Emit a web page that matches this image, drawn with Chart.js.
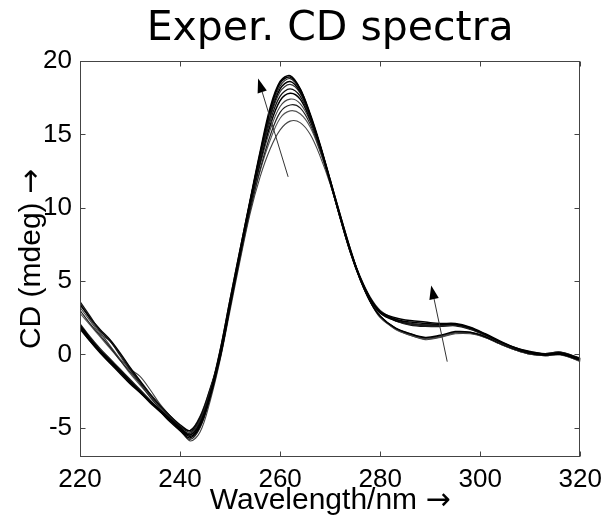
<!DOCTYPE html>
<html>
<head>
<meta charset="utf-8">
<script src="https://cdn.jsdelivr.net/npm/chart.js@4"></script>
<style>
  html, body { margin: 0; padding: 0; background: #fff; }
  #wrap { width: 609px; height: 520px; }
</style>
</head>
<body>
<div id="wrap"><canvas id="cdChart" width="609" height="520"></canvas></div>
<script>
// wavelengths (nm) shared by every spectrum
var wavelengths = [220,222,224,226,228,230,232,234,236,238,240,242,244,246,248,250,252,254,256,258,260,262,264,266,268,270,272,274,276,278,280,283,286,289,292,295,298,301,304,307,310,313,316,320];

// CD (mdeg) for each measured spectrum
var specA = [2.0,1.1,0.3,-0.4,-1.1,-1.8,-2.5,-3.2,-3.8,-4.4,-5.0,-5.5,-4.7,-2.7,0.2,3.7,7.1,10.5,13.8,16.8,18.6,19.0,18.1,16.3,14.2,11.8,9.4,7.1,5.2,3.8,2.9,2.4,2.2,2.1,2.05,2.05,1.8,1.35,0.85,0.45,0.15,0.0,0.1,-0.3];
var specB = [1.9,1.0,0.2,-0.5,-1.2,-1.9,-2.6,-3.2,-3.9,-4.5,-5.1,-5.6,-4.8,-2.8,0.0,3.5,7.0,10.4,13.7,16.6,18.5,18.9,18.1,16.4,14.3,11.9,9.5,7.2,5.2,3.8,2.9,2.5,2.3,2.2,2.1,2.1,1.85,1.4,0.9,0.45,0.2,0.0,0.05,-0.35];
var specC = [2.1,1.2,0.4,-0.3,-1.0,-1.7,-2.4,-3.1,-3.8,-4.4,-5.0,-5.4,-4.5,-2.5,0.3,3.8,7.2,10.5,13.6,16.4,18.3,18.8,18.0,16.3,14.2,11.8,9.4,7.1,5.3,3.9,3.0,2.4,2.1,2.0,2.0,2.0,1.75,1.3,0.8,0.4,0.15,0.05,0.15,-0.25];
var specD = [1.8,0.9,0.1,-0.6,-1.3,-2.0,-2.6,-3.3,-3.9,-4.6,-5.2,-5.7,-4.9,-2.9,-0.1,3.4,6.9,10.3,13.5,16.3,18.1,18.6,17.9,16.3,14.2,11.9,9.5,7.2,5.2,3.8,2.8,2.3,2.1,2.0,2.0,2.05,1.8,1.35,0.85,0.4,0.1,-0.05,0.05,-0.35];
var specE = [1.7,0.9,0.2,-0.5,-1.2,-1.9,-2.5,-3.2,-3.9,-4.5,-5.1,-5.5,-4.6,-2.6,0.1,3.6,7.0,10.3,13.4,16.1,17.9,18.4,17.8,16.2,14.2,11.8,9.4,7.1,5.2,3.8,2.9,2.3,2.05,1.95,1.95,2.0,1.75,1.3,0.8,0.4,0.1,0.0,0.1,-0.3];
var specF = [3.6,2.6,1.6,0.9,0.0,-1.0,-1.9,-2.7,-3.5,-4.2,-4.9,-5.3,-4.4,-2.5,0.0,3.5,6.9,10.2,13.3,15.9,17.6,18.1,17.6,16.1,14.1,11.8,9.4,7.1,5.2,3.8,2.9,2.3,2.0,1.9,1.9,1.95,1.7,1.3,0.8,0.4,0.1,0.05,0.15,-0.3];
var specG = [3.4,2.5,1.7,1.0,0.1,-0.9,-1.8,-2.7,-3.5,-4.2,-4.8,-5.2,-4.3,-2.4,-0.2,3.3,6.8,10.1,13.1,15.6,17.3,17.8,17.4,16.0,14.1,11.8,9.3,7.0,5.1,3.6,2.6,1.8,1.4,1.15,1.3,1.55,1.5,1.2,0.75,0.35,0.05,-0.05,0.0,-0.4];
var specH = [3.2,2.3,1.4,0.9,-0.1,-1.1,-1.9,-2.8,-3.6,-4.3,-5.0,-5.5,-4.6,-2.6,0.2,3.6,6.9,10.1,12.9,15.3,16.9,17.4,17.1,15.9,14.0,11.7,9.3,7.0,5.1,3.6,2.6,1.7,1.3,1.05,1.2,1.5,1.45,1.15,0.7,0.3,0.0,-0.1,0.0,-0.45];
var specI = [3.0,2.1,1.3,0.5,-0.4,-1.2,-2.0,-2.9,-3.7,-4.4,-5.2,-5.8,-5.0,-3.0,-0.3,3.2,6.6,9.8,12.6,14.9,16.5,17.0,16.8,15.7,13.9,11.7,9.3,7.0,5.1,3.6,2.6,1.8,1.4,1.1,1.25,1.5,1.5,1.2,0.75,0.35,0.05,-0.05,0.05,-0.4];
var specJ = [2.8,2.0,1.2,0.4,-0.4,-1.3,-2.1,-2.9,-3.7,-4.3,-4.9,-5.2,-4.2,-2.3,0.0,3.4,6.7,9.8,12.5,14.6,16.1,16.6,16.4,15.5,13.8,11.7,9.3,7.0,5.1,3.6,2.6,1.8,1.35,1.1,1.2,1.45,1.45,1.15,0.7,0.3,0.0,-0.1,-0.05,-0.45];
var specK = [3.5,2.4,1.5,0.6,-0.3,-1.0,-1.5,-2.4,-3.4,-4.2,-5.0,-5.9,-5.3,-3.2,-0.4,3.0,6.4,9.6,12.1,14.0,15.3,15.9,15.8,15.0,13.5,11.6,9.3,7.0,5.1,3.6,2.5,1.75,1.3,1.0,1.15,1.4,1.4,1.15,0.7,0.3,0.0,-0.1,0.0,-0.5];

var spectra = [specA, specB, specC, specD, specE, specF, specG, specH, specI, specJ, specK];
var lineColors = ['#000','#000','#222','#000','#333','#111','#000','#444','#222','#555','#444'];
var lineWidths = [1.6, 1.5, 1.2, 1.5, 1.2, 1.3, 1.5, 1.1, 1.2, 1.1, 1.1];

// tick values
var xTicks = [220, 240, 260, 280, 300, 320];
var yTicks = [-5, 0, 5, 10, 15, 20];

// trend arrows: [wavelength, CD] tail -> head
var arrowTails = [[261.6, 12.1], [293.4, -0.5]];
var arrowHeads = [[255.6, 18.8], [290.2, 4.7]];

var labelFamily = 'Liberation Sans, Arial, sans-serif';
var tickFont = { family: labelFamily, size: 26 };

// inward ticks on all four sides plus the box
var frameTicks = {
    id: 'frameTicks',
    afterDraw: function(chart) {
        var ctx = chart.ctx, a = chart.chartArea;
        var sx = chart.scales.x, sy = chart.scales.y;
        var L = Math.round(a.left) + 0.5, R = Math.round(a.right) - 0.5;
        var T = Math.round(a.top) + 0.5, B = Math.round(a.bottom) - 0.5;
        ctx.save();
        ctx.strokeStyle = '#444';
        ctx.lineWidth = 1;
        ctx.strokeRect(L, T, R - L, B - T);
        ctx.beginPath();
        xTicks.forEach(function(v) {
            var px = Math.round(sx.getPixelForValue(v)) + 0.5;
            ctx.moveTo(px, B); ctx.lineTo(px, B - 5);
            ctx.moveTo(px, T); ctx.lineTo(px, T + 5);
        });
        yTicks.forEach(function(v) {
            var py = Math.round(sy.getPixelForValue(v)) + 0.5;
            ctx.moveTo(L, py); ctx.lineTo(L + 5, py);
            ctx.moveTo(R, py); ctx.lineTo(R - 5, py);
        });
        ctx.stroke();
        ctx.restore();
    }
};

// axis titles: text in Helvetica-like face, arrow glyph from DejaVu
function drawLabel(ctx, text, cx, baseY) {
    ctx.font = '30px ' + labelFamily;
    var w1 = ctx.measureText(text + ' ').width;
    ctx.font = '30px DejaVu Sans';
    var w2 = ctx.measureText('\u2192').width;
    var x = cx - (w1 + w2) / 2;
    ctx.textAlign = 'left';
    ctx.textBaseline = 'alphabetic';
    ctx.font = '30px ' + labelFamily;
    ctx.fillText(text, x, baseY);
    ctx.font = '30px DejaVu Sans';
    ctx.fillText('\u2192', x + w1, baseY);
}

var axisTitles = {
    id: 'axisTitles',
    afterDraw: function(chart) {
        var ctx = chart.ctx, a = chart.chartArea;
        ctx.save();
        ctx.fillStyle = '#000';
        drawLabel(ctx, 'Wavelength/nm', (a.left + a.right) / 2, 509);
        ctx.translate(40, (a.top + a.bottom) / 2);
        ctx.rotate(-Math.PI / 2);
        drawLabel(ctx, 'CD (mdeg)', 0, 0);
        ctx.restore();
    }
};

var trendArrows = {
    id: 'trendArrows',
    afterDatasetsDraw: function(chart) {
        var ctx = chart.ctx;
        var sx = chart.scales.x, sy = chart.scales.y;
        ctx.save();
        ctx.strokeStyle = '#333';
        ctx.fillStyle = '#000';
        ctx.lineWidth = 1;
        for (var i = 0; i < arrowTails.length; i++) {
            var x0 = sx.getPixelForValue(arrowTails[i][0]), y0 = sy.getPixelForValue(arrowTails[i][1]);
            var x1 = sx.getPixelForValue(arrowHeads[i][0]), y1 = sy.getPixelForValue(arrowHeads[i][1]);
            var ang = Math.atan2(y1 - y0, x1 - x0);
            var hl = 14, hw = 4.8;
            var bx = x1 - hl * Math.cos(ang), by = y1 - hl * Math.sin(ang);
            ctx.beginPath();
            ctx.moveTo(x0, y0); ctx.lineTo(bx, by);
            ctx.stroke();
            ctx.beginPath();
            ctx.moveTo(x1, y1);
            ctx.lineTo(bx + hw * Math.sin(ang), by - hw * Math.cos(ang));
            ctx.lineTo(bx - hw * Math.sin(ang), by + hw * Math.cos(ang));
            ctx.closePath();
            ctx.fill();
        }
        ctx.restore();
    }
};

var datasets = spectra.map(function(s, i) {
    return {
        data: wavelengths.map(function(w, j) { return { x: w, y: s[j] }; }),
        borderColor: lineColors[i],
        borderWidth: lineWidths[i],
        pointRadius: 0,
        fill: false,
        tension: 0.35
    };
});

new Chart(document.getElementById('cdChart').getContext('2d'), {
    type: 'line',
    data: { datasets: datasets },
    options: {
        responsive: false,
        animation: false,
        layout: { padding: { left: 0, right: 26, top: 0, bottom: 0 } },
        plugins: {
            legend: { display: false },
            tooltip: { enabled: false },
            title: {
                display: true,
                fullSize: false,
                text: 'Exper. CD spectra',
                color: '#000',
                font: { family: 'DejaVu Sans', size: 41, weight: 'normal' },
                padding: { top: 5, bottom: 6.8 }
            }
        },
        scales: {
            x: {
                type: 'linear',
                min: 220,
                max: 320,
                afterBuildTicks: function(s) { s.ticks = xTicks.map(function(v) { return { value: v }; }); },
                afterFit: function(s) { s.height = 63; },
                grid: { display: false, drawTicks: false },
                border: { display: false },
                ticks: { color: '#000', font: tickFont, padding: 7, maxRotation: 0, autoSkip: false }
            },
            y: {
                min: -7,
                max: 20,
                afterBuildTicks: function(s) { s.ticks = yTicks.map(function(v) { return { value: v }; }); },
                afterFit: function(s) { s.width = 80; },
                grid: { display: false, drawTicks: false },
                border: { display: false },
                ticks: { color: '#000', font: tickFont, padding: 8 }
            }
        }
    },
    plugins: [frameTicks, trendArrows, axisTitles]
});
</script>
</body>
</html>
